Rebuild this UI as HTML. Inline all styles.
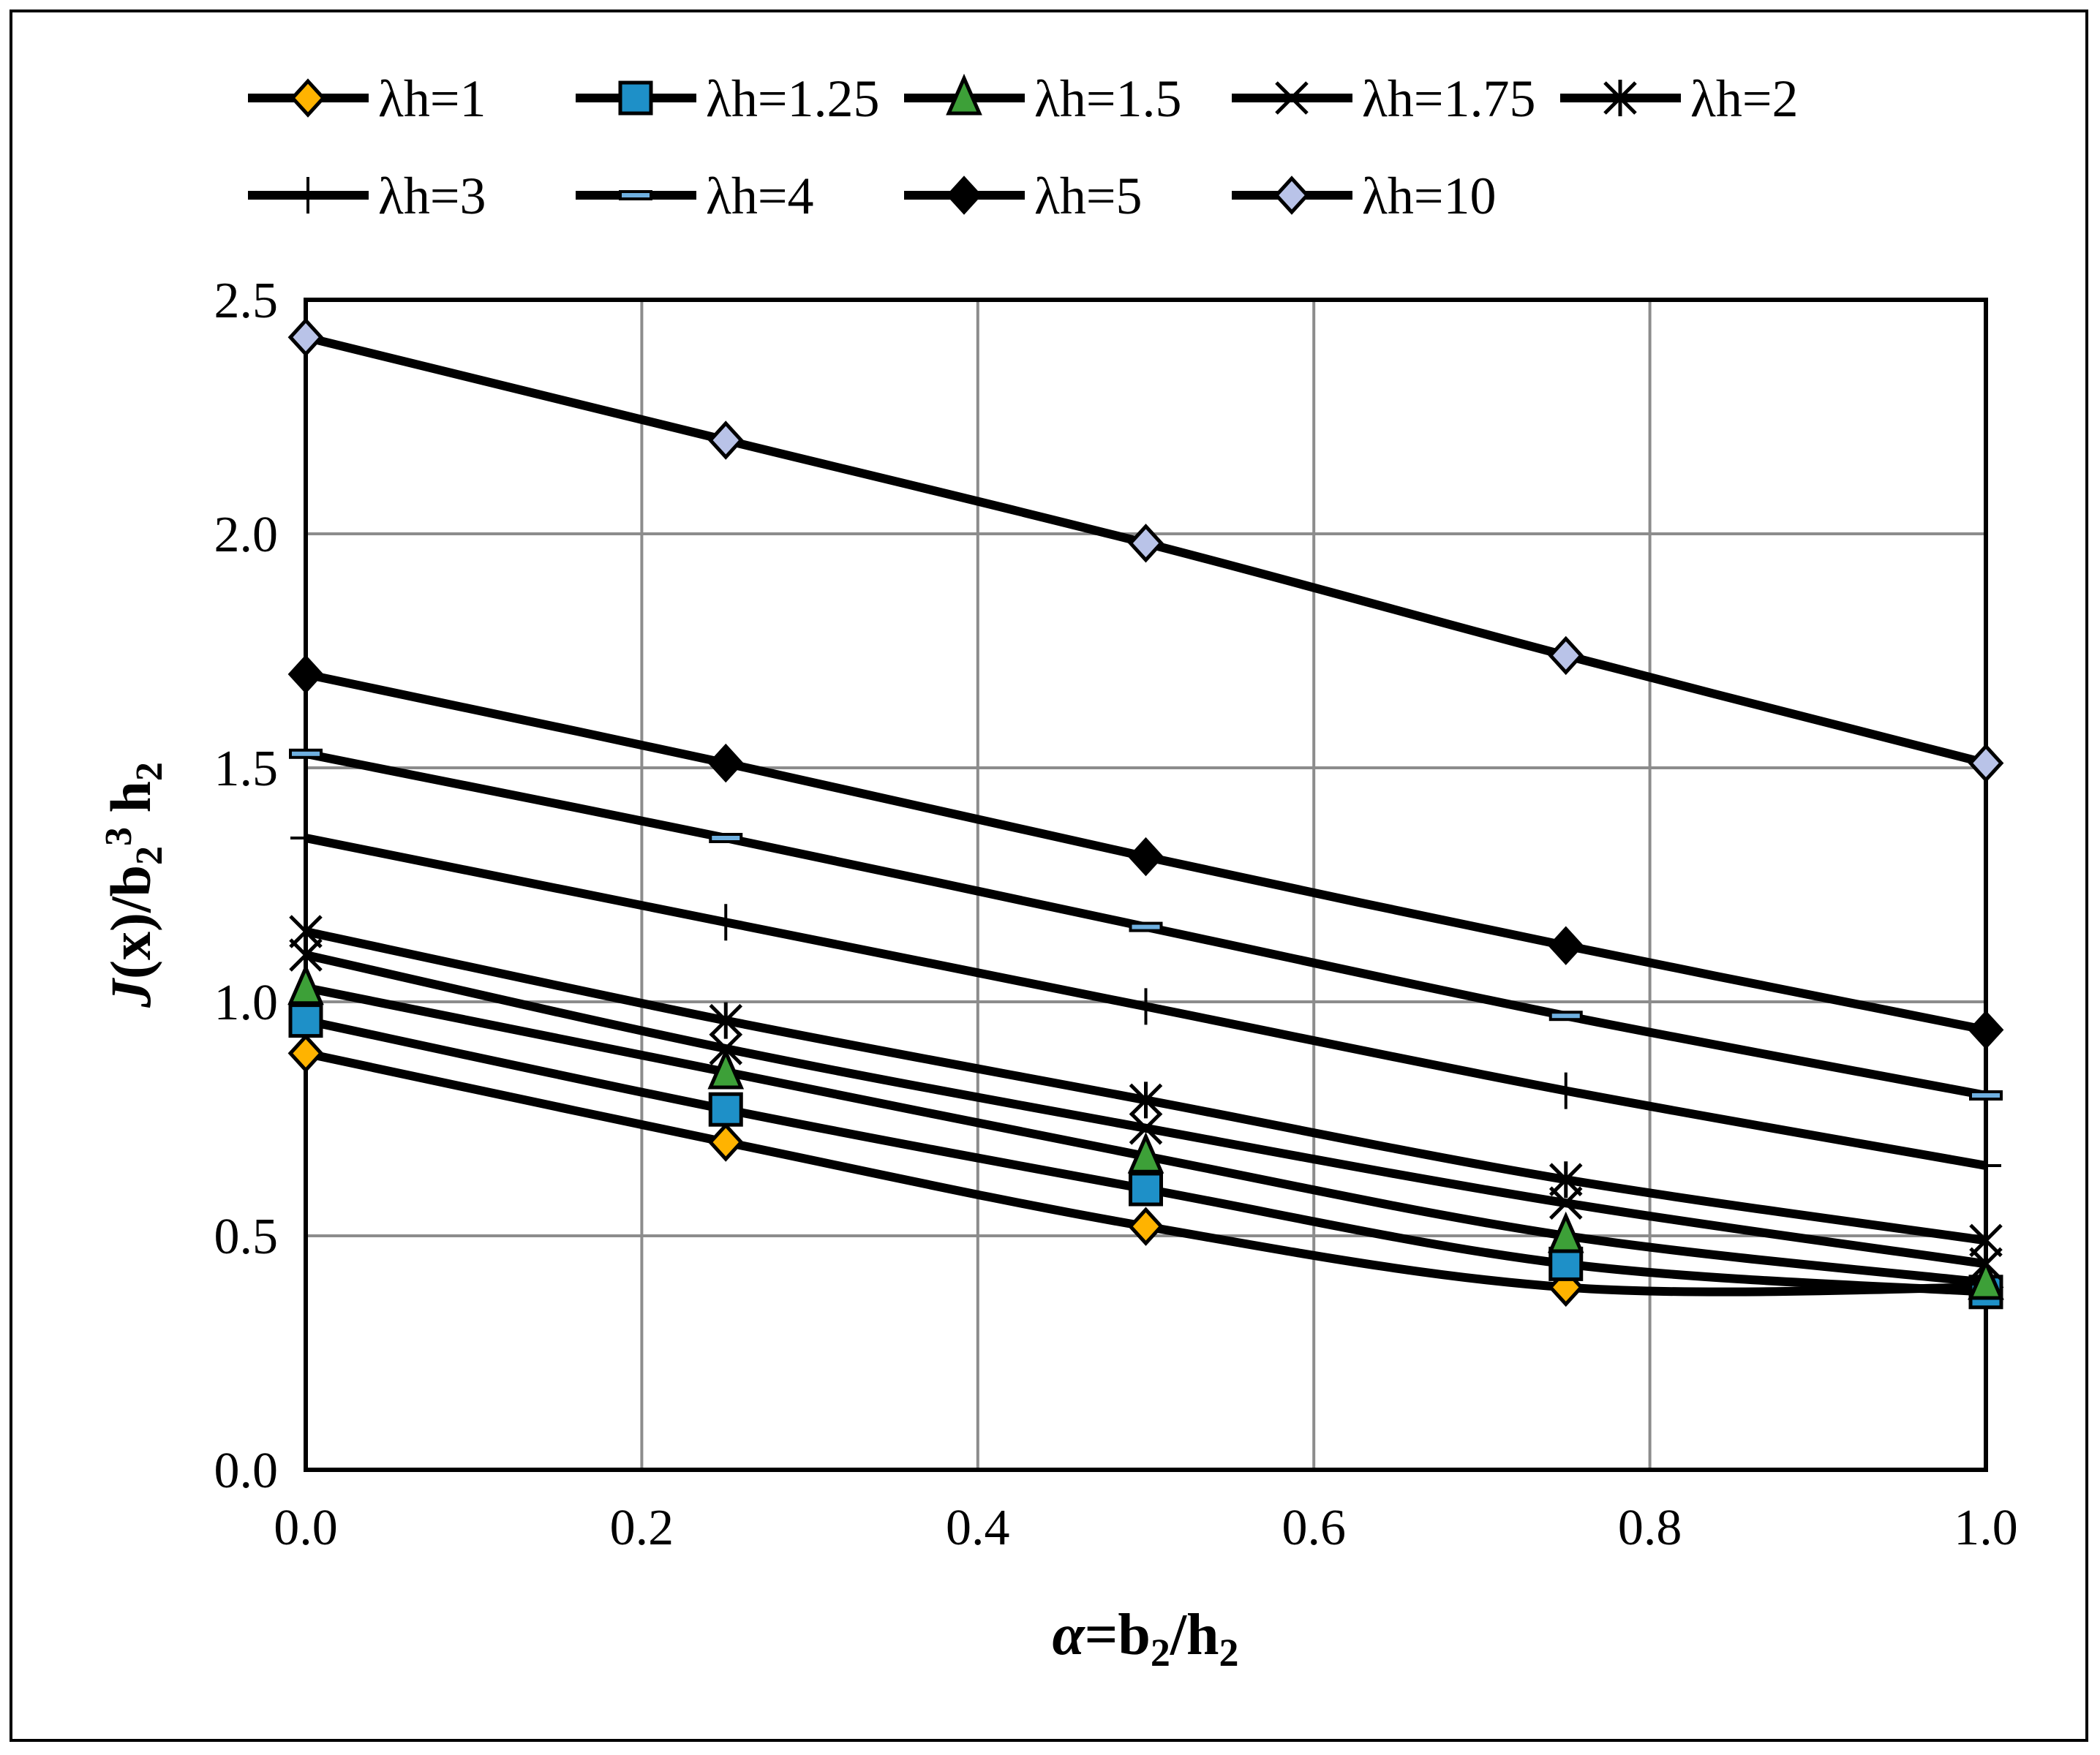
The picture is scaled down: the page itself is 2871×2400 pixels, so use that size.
<!DOCTYPE html>
<html><head><meta charset="utf-8"><style>
html,body{margin:0;padding:0;background:#fff;}
svg{display:block;}
text{font-family:"Liberation Serif",serif;fill:#000;}
</style></head><body>
<svg id="chart" width="2871" height="2400" viewBox="0 0 2871 2400" xmlns="http://www.w3.org/2000/svg">
<rect x="15" y="15" width="2838" height="2365" fill="#fff" stroke="#000" stroke-width="4"/>
<g id="grid"></g>
<g id="axes"></g>
<g id="series"></g>
<g id="legend"></g>
<text x="1566" y="2262" font-size="80" font-weight="bold" text-anchor="middle"><tspan font-style="italic">α</tspan>=b<tspan font-size="54" dy="16">2</tspan><tspan dy="-16">/h</tspan><tspan font-size="54" dy="16">2</tspan></text>
<text transform="translate(205,1210) rotate(-90)" font-size="78" font-weight="bold" text-anchor="middle"><tspan font-style="italic">J</tspan>(x)/b<tspan font-size="52" dy="16">2</tspan><tspan font-size="52" dy="-42">3</tspan><tspan dy="26"> h</tspan><tspan font-size="52" dy="16">2</tspan></text>
</svg>
<script>
const xValues=[0,0.25,0.5,0.75,1.0];
const seriesNames=["λh=1","λh=1.25","λh=1.5","λh=1.75","λh=2","λh=3","λh=4","λh=5","λh=10"];
const s1=[0.89,0.70,0.52,0.39,0.39];
const s125=[0.96,0.77,0.60,0.44,0.38];
const s15=[1.03,0.85,0.67,0.50,0.40];
const s175=[1.10,0.90,0.73,0.57,0.44];
const s2=[1.15,0.96,0.79,0.62,0.49];
const s3=[1.35,1.17,0.99,0.81,0.65];
const s4=[1.53,1.35,1.16,0.97,0.80];
const s5=[1.70,1.51,1.31,1.12,0.94];
const s10=[2.42,2.20,1.98,1.74,1.51];
const xTicks=["0.0","0.2","0.4","0.6","0.8","1.0"];
const yTicks=["0.0","0.5","1.0","1.5","2.0","2.5"];
const allSeries=[s1,s125,s15,s175,s2,s3,s4,s5,s10];
const markers=["diamond","square","triangle","x","star","plus","dash","diamondBlack","diamondLav"];

const NS="http://www.w3.org/2000/svg";
const X0=418,X1=2715,Y0=2010,Y1=410;
function sx(v){return X0+(X1-X0)*v;}
function sy(v){return Y0-(Y0-Y1)*v/2.5;}
function mk(tag,attrs,parent){const e=document.createElementNS(NS,tag);for(const k in attrs)e.setAttribute(k,attrs[k]);parent.appendChild(e);return e;}
const grid=document.getElementById('grid'),axes=document.getElementById('axes'),ser=document.getElementById('series'),leg=document.getElementById('legend');

xTicks.forEach((t,i)=>{const v=parseFloat(t);
 if(i>0&&i<xTicks.length-1){const l=mk('line',{x1:sx(v),x2:sx(v),y1:Y1,y2:Y0,stroke:'#8c8c8c','stroke-width':4},grid);
 
 }
 const tx=mk('text',{x:sx(v),y:Y0+102,'font-size':70,'text-anchor':'middle'},axes);tx.textContent=t;
 
 
});
yTicks.forEach((t,i)=>{const v=parseFloat(t);
 if(i>0&&i<yTicks.length-1){const l=mk('line',{x1:X0,x2:X1,y1:sy(v),y2:sy(v),stroke:'#8c8c8c','stroke-width':4},grid);
 
 }
 const tx=mk('text',{x:X0-38,y:sy(v)+24,'font-size':70,'text-anchor':'end'},axes);tx.textContent=t;
 
 
});
const frame=mk('rect',{x:X0,y:Y1,width:X1-X0,height:Y0-Y1,fill:'none',stroke:'#000','stroke-width':6},axes);



function smoothPath(pts){let d=`M${pts[0][0]},${pts[0][1]}`;const t=0.17;
 for(let i=0;i<pts.length-1;i++){const p0=pts[Math.max(i-1,0)],p1=pts[i],p2=pts[i+1],p3=pts[Math.min(i+2,pts.length-1)];
  const c1=[p1[0]+(p2[0]-p0[0])*t,p1[1]+(p2[1]-p0[1])*t],c2=[p2[0]-(p3[0]-p1[0])*t,p2[1]-(p3[1]-p1[1])*t];
  d+=` C${c1[0]},${c1[1]} ${c2[0]},${c2[1]} ${p2[0]},${p2[1]}`;}
 return d;}
function marker(type,x,y,parent){const g=mk('g',{},parent);const r=21,sw=5;
 if(type==='diamond'||type==='diamondBlack'||type==='diamondLav'){const f=type==='diamond'?'#FFB300':type==='diamondBlack'?'#000':'#B9C3E8';
  mk('polygon',{points:`${x},${y-r-2} ${x+r},${y} ${x},${y+r+2} ${x-r},${y}`,fill:f,stroke:'#000','stroke-width':sw},g);}
 else if(type==='square'){mk('rect',{x:x-r,y:y-r,width:2*r,height:2*r,fill:'#1E90C8',stroke:'#000','stroke-width':sw},g);}
 else if(type==='triangle'){mk('polygon',{points:`${x},${y-r-6} ${x+r},${y+r} ${x-r},${y+r}`,fill:'#3DA038',stroke:'#000','stroke-width':sw},g);}
 else if(type==='x'){mk('path',{d:`M${x-r},${y-r}L${x+r},${y+r}M${x-r},${y+r}L${x+r},${y-r}`,stroke:'#000','stroke-width':5},g);}
 else if(type==='star'){mk('path',{d:`M${x-r},${y-r}L${x+r},${y+r}M${x-r},${y+r}L${x+r},${y-r}M${x},${y-r-4}L${x},${y+r+4}`,stroke:'#000','stroke-width':5},g);}
 else if(type==='plus'){mk('path',{d:`M${x-r},${y}L${x+r},${y}M${x},${y-r-4}L${x},${y+r+4}`,stroke:'#000','stroke-width':4},g);}
 else if(type==='dash'){mk('rect',{x:x-r,y:y-5,width:2*r,height:10,fill:'#6FB0E0',stroke:'#000','stroke-width':4},g);}
 return g;}

allSeries.forEach((vals,si)=>{const g=mk('g',{},ser);
 
 
 const pts=vals.map((v,i)=>[sx(xValues[i]),sy(v)]);
 const p=mk('path',{d:smoothPath(pts),fill:'none',stroke:'#000','stroke-width':12,'stroke-linejoin':'round'},g);
 
 
 pts.forEach(pt=>{const m=marker(markers[si],pt[0],pt[1],g);
  
  });
});

const colX=[339,787,1236,1684,2133];
seriesNames.forEach((n,i)=>{const row=i<5?0:1,col=i<5?i:i-5;const x=colX[col],y=row===0?134:267;
 const g=mk('g',{},leg);
 
 
 mk('line',{x1:x,x2:x+165,y1:y,y2:y,stroke:'#000','stroke-width':12},g);
 marker(markers[i],x+82,y,g);
 const t=mk('text',{x:x+178,y:y+25,'font-size':72},g);t.textContent=n;
});
</script>
</body></html>
